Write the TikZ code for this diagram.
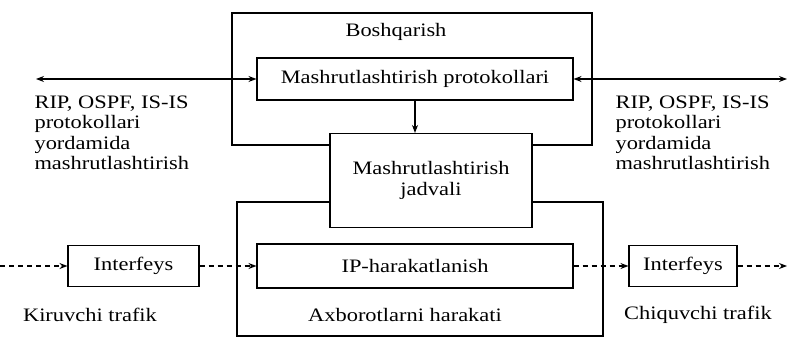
\documentclass[tikz,border=0pt]{standalone}
\usepackage{fontspec}
\setmainfont{Liberation Serif}[FakeStretch=1.18]
\usetikzlibrary{arrows.meta}

\begin{document}
\begin{tikzpicture}[x=1pt, y=-1pt, line width=1.1pt, >={Stealth[length=8pt,width=6pt]},
  font=\fontsize{19}{20.5}\selectfont,
  box/.style={draw, fill=white, inner sep=0pt},
  dsh/.style={->, dash pattern=on 5pt off 4pt}]
\useasboundingbox (0,0) rectangle (788,337);
\node[box, minimum width=360pt, minimum height=132pt] (bosh) at (412,79) {};
\node[box, minimum width=366pt, minimum height=134pt] (axb) at (420,269) {};
\node (boshl) at (396,32) {Boshqarish};
\node[box, minimum width=316pt, minimum height=42pt] (prot) at (415,79) {Mashrutlashtirish protokollari};
\node[box, minimum width=202pt, minimum height=94pt, align=center] (jadv) at (431,180.5) {Mashrutlashtirish\\jadvali};
\node[box, minimum width=316pt, minimum height=44pt] (ipf) at (415,266) {IP-harakatlanish};
\node[box, minimum width=131pt, minimum height=41pt] (ifin) at (133.5,266) {Interfeys};
\node[box, minimum width=108pt, minimum height=41pt] (ifout) at (683,266) {Interfeys};
\node (axbl) at (405,315) {Axborotlarni harakati};
\node (kir) at (90,315) {Kiruvchi trafik};
\node (chiq) at (698,315) {Chiquvchi trafik};
\node[anchor=north west, align=left, inner sep=0pt] (rpl) at (34,95) {RIP, OSPF, IS-IS\\protokollari\\yordamida\\mashrutlashtirish};
\node[anchor=north west, align=left, inner sep=0pt] (rpr) at (615,95) {RIP, OSPF, IS-IS\\protokollari\\yordamida\\mashrutlashtirish};
\coordinate (lend) at (36,79);
\coordinate (rend) at (787,79);
\coordinate (din) at (0,266);
\coordinate (dout) at (787,266);
\draw[<->] (lend) -- (prot.west);
\draw[<->] (prot.east) -- (rend);
\draw[->] (prot.south) -- (prot.south |- jadv.north);
\draw[dsh] (din) -- (ifin.west);
\draw[dsh] (ifin.east) -- (ipf.west);
\draw[dsh] (ipf.east) -- (ifout.west);
\draw[dsh] (ifout.east) -- (dout);
\end{tikzpicture}
\end{document}
